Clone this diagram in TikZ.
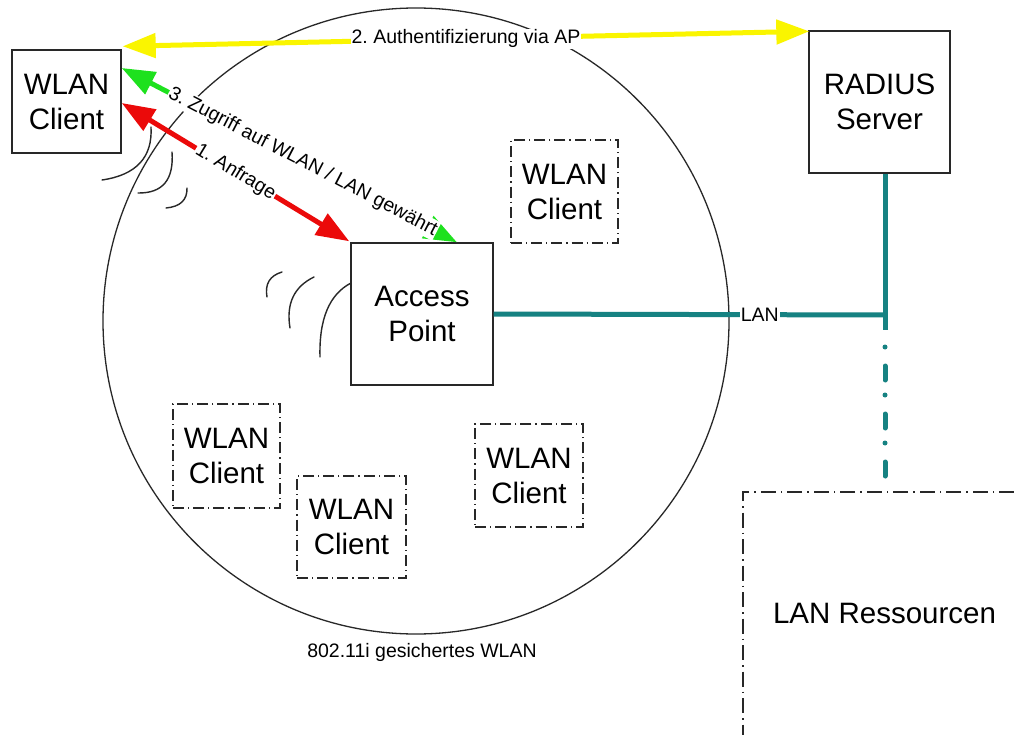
\documentclass[tikz,border=0pt]{standalone}
\usepackage{fontspec}
\setmainfont{Liberation Sans}
\usetikzlibrary{arrows.meta}

\definecolor{lanteal}{RGB}{22,130,130}
\definecolor{authyellow}{RGB}{250,245,0}
\definecolor{reqred}{RGB}{235,10,10}
\definecolor{okgreen}{RGB}{30,225,30}
\definecolor{frame}{RGB}{40,40,40}

\tikzset{
  big/.style={font=\fontsize{29.5}{35}\selectfont, align=center},
  small/.style={font=\fontsize{19.5}{23}\selectfont\frenchspacing},
  devbox/.style={draw=frame, line width=1.4pt, inner sep=0pt, big},
  otherclient/.style={draw=frame, line width=1.3pt, inner sep=0pt, big,
    dash pattern=on 11pt off 4pt on 1.2pt off 4pt},
  flow/.style={line width=5pt, {Triangle[length=33pt,width=24pt]}-{Triangle[length=33pt,width=24pt]}},
  flowlabel/.style={small, fill=white, inner sep=1pt},
  lanwire/.style={draw=lanteal, line width=5pt},
  wave/.style={draw=frame, line width=1.4pt, line cap=round},
  border/.style={draw=frame, line width=1.3pt, dash pattern=on 15pt off 5pt on 1.5pt off 5pt}
}

\begin{document}
\begin{tikzpicture}[x=1pt, y=-1pt]
  \useasboundingbox (0,0) rectangle (1014,735);
  \fill[white] (0,0) rectangle (1014,735);

  % secured WLAN cell
  \draw[frame, line width=1.3pt] (416,321) circle [radius=313];
  \node[small] (cell) at (422,652) {802.11i gesichertes WLAN};

  % radio waves of the client
  \draw[wave] (102,180) .. controls (136.3,175) and (152.7,157.3) .. (151,127);
  \draw[wave] (138,193) .. controls (162.7,193.3) and (174,179.7) .. (172,152);
  \draw[wave] (166,208) .. controls (180.3,206.7) and (187.3,200) .. (187,188);
  % radio waves of the access point
  \draw[wave] (351,283) .. controls (329.3,294.3) and (319,319) .. (320,357);
  \draw[wave] (314,277) .. controls (294,286.7) and (286,303.7) .. (290,328);
  \draw[wave] (282,272) .. controls (269.7,275.7) and (264.7,284) .. (267,297);

  % devices
  \node[devbox, minimum width=109pt, minimum height=103pt] (client) at (66.5,101.5) {WLAN\\Client};
  \node[devbox, minimum width=141pt, minimum height=142pt] (radius) at (879.5,102) {RADIUS\\Server};
  \node[devbox, minimum width=142pt, minimum height=142pt] (ap) at (422,314) {Access\\Point};

  % further clients in the cell
  \node[otherclient, minimum width=107pt, minimum height=103pt] (c1) at (564.5,191.5) {WLAN\\Client};
  \node[otherclient, minimum width=107pt, minimum height=104pt] (c2) at (226.5,456) {WLAN\\Client};
  \node[otherclient, minimum width=109pt, minimum height=102pt] (c3) at (351.5,527) {WLAN\\Client};
  \node[otherclient, minimum width=108pt, minimum height=103pt] (c4) at (529,475.5) {WLAN\\Client};

  % wired LAN
  \coordinate (tee) at (885,315);
  \coordinate (solidend) at (885,330);
  \coordinate (dotstart) at (885,347);
  \coordinate (dotend) at (885,476);
  \draw[lanwire] (ap.east) -- node[small, fill=white, inner sep=1pt, pos=0.68] (lanlabel) {LAN} (tee);
  \draw[lanwire] (radius.south -| tee) -- (solidend);
  \draw[lanwire, line cap=round, dash pattern=on 0pt off 19pt on 14pt off 15pt] (dotstart) -- (dotend);

  % LAN resources area
  \coordinate (corner) at (743,492);
  \coordinate (rightend) at (1014,492);
  \coordinate (bottomend) at (743,735);
  \draw[border] (rightend) -- (corner) -- (bottomend);
  \node[big] (res) at (884.5,613) {LAN Ressourcen};

  % authentication sequence
  \draw[flow, draw=reqred, fill=reqred] ([yshift=-1.5pt]client.east) -- node[flowlabel, sloped, pos=0.5] (l1) {1. Anfrage} ([xshift=-1pt,yshift=1pt]ap.north west);
  \draw[flow, draw=okgreen, fill=okgreen] ([yshift=33.5pt]client.east) -- node[flowlabel, sloped, pos=0.54] (l3) {3. Zugriff auf WLAN / LAN gewährt} ([xshift=35pt]ap.north);
  \draw[flow, draw=authyellow, fill=authyellow] ([xshift=1pt,yshift=3pt]client.north east) -- node[flowlabel, pos=0.5] (l2) {2. Authentifizierung via AP} ([xshift=1pt,yshift=-1pt]radius.north west);
\end{tikzpicture}
\end{document}
